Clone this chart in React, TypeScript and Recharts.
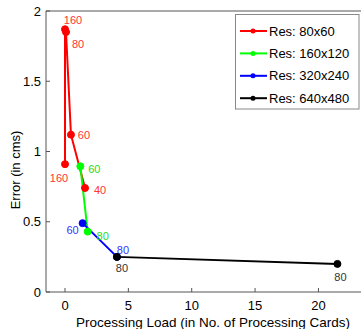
import React from 'react';
import { LineChart, Line, XAxis, YAxis } from 'recharts';

// values
const resolutions = ['80x60', '160x120', '320x240', '640x480'];

const redX = [0, 0, 0.08, 0.47, 1.58];
const redY = [0.91, 1.87, 1.85, 1.12, 0.74];
const redTags = ['160', '160', '80', '60', '40'];

const greenX = [1.21, 1.79];
const greenY = [0.895, 0.43];
const greenTags = ['60', '80'];

const blueX = [1.39, 4.1];
const blueY = [0.49, 0.25];
const blueTags = ['60', '80'];

const blackX = [4.1, 21.5];
const blackY = [0.25, 0.2];
const blackTags = ['80', '80'];

const xTicks = [0, 5, 10, 15, 20];
const yTicks = [0, 0.5, 1, 1.5, 2];

const build = (xs: number[], ys: number[], tags: string[]) =>
  xs.map((x, i) => ({ x, y: ys[i], tag: tags[i] }));

const series = [
  { name: resolutions[0], data: build(redX, redY, redTags), color: '#ff0000', text: '#ff3333',
    offsets: [[-6, 14], [8, -9], [12, 12], [13, 0], [15, 2]] },
  { name: resolutions[1], data: build(greenX, greenY, greenTags), color: '#00ff00', text: '#22dd22',
    offsets: [[14, 3], [15, 4]] },
  { name: resolutions[2], data: build(blueX, blueY, blueTags), color: '#0000ff', text: '#3333ff',
    offsets: [[-10, 7], [6, -7]] },
  { name: resolutions[3], data: build(blackX, blackY, blackTags), color: '#000000', text: '#333333',
    offsets: [[5, 11], [3, 13]] },
];

const font = 'Liberation Sans, Arial, Helvetica, sans-serif';
const axisColor = '#555';
const xDomain: [number, number] = [-1.5, 23.36];

const makeDot = (color: string, textColor: string, offsets: number[][]) => (props: any) => {
  const { cx, cy, index, payload } = props;
  const [dx, dy] = offsets[index] || [0, 0];
  return (
    <g key={`d-${index}`}>
      <circle cx={cx} cy={cy} r={3.5} fill={color} stroke={color} />
      <text x={cx + dx} y={cy + dy} textAnchor="middle" dominantBaseline="central"
        fontSize={11} fill={textColor} fontFamily={font}>
        {payload.tag}
      </text>
    </g>
  );
};

const Legend = () => (
  <svg width={125} height={96} style={{ position: 'absolute', left: 235, top: 14 }}>
    <rect x={0.5} y={0.5} width={123.5} height={94.5} fill="#fff" stroke="#888" />
    {series.map((s, i) => {
      const cy = 17 + i * 22.4;
      return (
        <g key={s.name}>
          <line x1={5} x2={32} y1={cy} y2={cy} stroke={s.color} strokeWidth={2} />
          <circle cx={18} cy={cy} r={2.5} fill={s.color} />
          <text x={34} y={cy} dominantBaseline="central" fontSize={13} fontFamily={font} fill="#000">
            Res: {s.name}
          </text>
        </g>
      );
    })}
  </svg>
);

export default function App() {
  return (
    <div style={{ position: 'absolute', left: 0, top: 0, width: 361, height: 329, overflow: 'hidden', background: '#fff' }}>
      <LineChart width={361} height={329} margin={{ top: 0, right: 0, bottom: 0, left: 0 }}>
        <XAxis xAxisId="b" type="number" dataKey="x" domain={xDomain} ticks={xTicks} allowDataOverflow
          height={37} tickSize={-4} tickMargin={13}
          axisLine={{ stroke: axisColor }} tickLine={{ stroke: axisColor }}
          tick={{ fontSize: 13, fill: '#000', fontFamily: font }}
          label={{
            content: () => (
              <text x={213} y={327} textAnchor="middle" fontSize={13.5} fontFamily={font} fill="#000">
                Processing Load (in No. of Processing Cards)
              </text>
            ),
          }}
        />
        <XAxis xAxisId="t" orientation="top" type="number" domain={xDomain} ticks={xTicks} allowDataOverflow
          height={11} tickSize={-4} tick={false}
          axisLine={{ stroke: axisColor }} tickLine={{ stroke: axisColor }} />
        <YAxis type="number" domain={[0, 2]} ticks={yTicks} allowDataOverflow width={46}
          tickSize={-4} tickMargin={9}
          axisLine={{ stroke: axisColor }} tickLine={{ stroke: axisColor }}
          tick={{ fontSize: 13, fill: '#000', fontFamily: font }}
          label={{
            content: () => (
              <text x={15} y={170} transform="rotate(-90 15 170)" textAnchor="middle"
                dominantBaseline="central" fontSize={13} fontFamily={font} fill="#000">
                Error (in cms)
              </text>
            ),
          }}
        />
        {series.map((s) => (
          <Line key={s.name} xAxisId="b" data={s.data} dataKey="y" type="linear" stroke={s.color}
            strokeWidth={2} dot={makeDot(s.color, s.text, s.offsets)} activeDot={false}
            isAnimationActive={false} />
        ))}
      </LineChart>
      <Legend />
    </div>
  );
}
